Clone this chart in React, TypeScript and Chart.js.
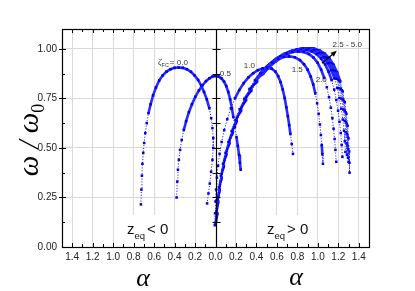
import { useEffect, useRef } from 'react';
import { Chart, registerables } from 'chart.js';
Chart.register(...registerables);

// ---- axis ticks ----
const X_TICKS = [-1.4, -1.2, -1.0, -0.8, -0.6, -0.4, -0.2, 0, 0.2, 0.4, 0.6, 0.8, 1.0, 1.2, 1.4];
const Y_TICKS = [0, 0.25, 0.5, 0.75, 1.0];

// ---- curves: [alpha (negative = z_eq < 0), omega/omega0] ----
const zeta00: [number, number][] = [
  [-0.729, 0.215], [-0.724, 0.29], [-0.719, 0.36], [-0.714, 0.42], [-0.706, 0.475], [-0.697, 0.525],
  [-0.686, 0.575], [-0.672, 0.625], [-0.655, 0.675], [-0.634, 0.72], [-0.61, 0.765], [-0.582, 0.805],
  [-0.55, 0.84], [-0.515, 0.866], [-0.478, 0.885], [-0.44, 0.897], [-0.4, 0.904], [-0.36, 0.906],
  [-0.32, 0.904], [-0.28, 0.897], [-0.24, 0.884], [-0.205, 0.866], [-0.17, 0.843], [-0.14, 0.815],
  [-0.112, 0.782], [-0.085, 0.745], [-0.06, 0.7], [-0.042, 0.65], [-0.03, 0.6], [-0.022, 0.55],
  [-0.022, 0.5], [-0.03, 0.44], [-0.043, 0.38], [-0.056, 0.32], [-0.069, 0.27], [-0.082, 0.22],
];
const zeta05: [number, number][] = [
  [-0.38, 0.25], [-0.374, 0.33], [-0.367, 0.39], [-0.358, 0.44], [-0.346, 0.49], [-0.33, 0.54],
  [-0.31, 0.59], [-0.287, 0.635], [-0.26, 0.68], [-0.23, 0.72], [-0.197, 0.758], [-0.162, 0.79],
  [-0.127, 0.816], [-0.093, 0.837], [-0.06, 0.851], [-0.03, 0.86], [0.0, 0.863], [0.03, 0.86],
  [0.058, 0.851], [0.083, 0.835], [0.105, 0.812], [0.125, 0.782], [0.143, 0.745], [0.16, 0.7],
  [0.175, 0.655], [0.19, 0.605], [0.205, 0.555], [0.218, 0.51], [0.23, 0.465], [0.239, 0.425], [0.246, 0.39],
];
const zeta10: [number, number][] = [
  [-0.007, 0.11], [-0.004, 0.17], [0.0, 0.23], [0.006, 0.29], [0.014, 0.35], [0.025, 0.41],
  [0.04, 0.47], [0.06, 0.53], [0.085, 0.59], [0.115, 0.645], [0.15, 0.7], [0.19, 0.75],
  [0.232, 0.792], [0.276, 0.827], [0.322, 0.856], [0.368, 0.877], [0.414, 0.892], [0.46, 0.901],
  [0.505, 0.905], [0.55, 0.9], [0.585, 0.885], [0.612, 0.862], [0.636, 0.832], [0.657, 0.795],
  [0.676, 0.752], [0.692, 0.705], [0.707, 0.66], [0.72, 0.615], [0.732, 0.57], [0.745, 0.52], [0.757, 0.47],
];
const zeta15: [number, number][] = [
  [0.0, 0.12], [0.008, 0.18], [0.02, 0.24], [0.035, 0.3], [0.053, 0.36], [0.074, 0.42],
  [0.098, 0.475], [0.126, 0.53], [0.158, 0.585], [0.195, 0.64], [0.236, 0.695], [0.282, 0.748],
  [0.332, 0.797], [0.385, 0.84], [0.44, 0.877], [0.497, 0.908], [0.555, 0.932], [0.612, 0.949],
  [0.667, 0.959], [0.72, 0.962], [0.775, 0.957], [0.825, 0.943], [0.865, 0.922], [0.9, 0.895],
  [0.93, 0.86], [0.955, 0.82], [0.975, 0.775], [0.993, 0.725], [1.008, 0.672], [1.02, 0.618],
  [1.03, 0.565], [1.038, 0.515], [1.044, 0.468], [1.05, 0.42],
];
const zeta20: [number, number][] = [
  [0.005, 0.13], [0.013, 0.19], [0.026, 0.25], [0.042, 0.31], [0.061, 0.37], [0.083, 0.43],
  [0.108, 0.485], [0.137, 0.54], [0.17, 0.595], [0.208, 0.65], [0.25, 0.703], [0.296, 0.755],
  [0.346, 0.803], [0.4, 0.846], [0.456, 0.884], [0.514, 0.916], [0.574, 0.942], [0.634, 0.962],
  [0.694, 0.976], [0.752, 0.984], [0.808, 0.987], [0.862, 0.984], [0.912, 0.974], [0.957, 0.956],
  [0.997, 0.93], [1.032, 0.895], [1.062, 0.853], [1.088, 0.806], [1.109, 0.756], [1.127, 0.703],
  [1.142, 0.65], [1.154, 0.597], [1.164, 0.545], [1.172, 0.49], [1.18, 0.43],
];
const zeta25: [number, number][] = [
  [0.008, 0.14], [0.016, 0.2], [0.029, 0.26], [0.045, 0.32], [0.065, 0.38], [0.088, 0.44],
  [0.114, 0.495], [0.144, 0.55], [0.178, 0.605], [0.217, 0.66], [0.26, 0.713], [0.307, 0.764],
  [0.358, 0.811], [0.413, 0.854], [0.47, 0.891], [0.53, 0.923], [0.592, 0.949], [0.655, 0.969],
  [0.717, 0.983], [0.777, 0.991], [0.834, 0.995], [0.888, 0.994], [0.94, 0.987], [0.988, 0.973],
  [1.032, 0.951], [1.071, 0.922], [1.105, 0.885], [1.135, 0.842], [1.16, 0.794], [1.181, 0.742],
  [1.198, 0.688], [1.212, 0.632], [1.224, 0.575], [1.233, 0.515], [1.24, 0.455],
];
const zeta30: [number, number][] = [
  [0.01, 0.15], [0.019, 0.21], [0.032, 0.27], [0.049, 0.33], [0.069, 0.39], [0.093, 0.45],
  [0.12, 0.505], [0.151, 0.56], [0.186, 0.615], [0.226, 0.67], [0.27, 0.722], [0.318, 0.772],
  [0.37, 0.819], [0.426, 0.861], [0.484, 0.897], [0.545, 0.928], [0.608, 0.954], [0.672, 0.974],
  [0.735, 0.988], [0.796, 0.997], [0.855, 1.001], [0.91, 1.0], [0.963, 0.993], [1.012, 0.979],
  [1.057, 0.957], [1.097, 0.928], [1.132, 0.892], [1.163, 0.85], [1.189, 0.803], [1.211, 0.752],
  [1.229, 0.698], [1.244, 0.643], [1.256, 0.587], [1.264, 0.533], [1.27, 0.48],
];
const zeta35: [number, number][] = [
  [0.012, 0.155], [0.021, 0.215], [0.035, 0.275], [0.052, 0.335], [0.073, 0.395], [0.097, 0.455],
  [0.125, 0.51], [0.157, 0.565], [0.193, 0.62], [0.233, 0.675], [0.278, 0.727], [0.327, 0.777],
  [0.38, 0.823], [0.436, 0.864], [0.495, 0.9], [0.557, 0.931], [0.621, 0.956], [0.686, 0.976],
  [0.75, 0.99], [0.813, 0.998], [0.873, 1.002], [0.93, 1.0], [0.983, 0.993], [1.032, 0.978],
  [1.077, 0.956], [1.117, 0.927], [1.152, 0.891], [1.183, 0.849], [1.209, 0.801], [1.231, 0.749],
  [1.249, 0.694], [1.263, 0.637], [1.274, 0.579], [1.28, 0.522], [1.285, 0.465],
];
const zeta40: [number, number][] = [
  [0.014, 0.16], [0.023, 0.22], [0.037, 0.28], [0.055, 0.34], [0.076, 0.4], [0.101, 0.46],
  [0.129, 0.515], [0.162, 0.57], [0.198, 0.625], [0.239, 0.68], [0.285, 0.732], [0.335, 0.782],
  [0.389, 0.827], [0.446, 0.868], [0.506, 0.903], [0.569, 0.934], [0.634, 0.958], [0.7, 0.978],
  [0.765, 0.991], [0.828, 0.999], [0.888, 1.002], [0.945, 1.0], [0.998, 0.992], [1.047, 0.977],
  [1.092, 0.955], [1.132, 0.925], [1.167, 0.888], [1.198, 0.845], [1.224, 0.797], [1.245, 0.744],
  [1.262, 0.688], [1.276, 0.63], [1.286, 0.57], [1.291, 0.51], [1.295, 0.45],
];
const zeta45: [number, number][] = [
  [0.016, 0.165], [0.025, 0.225], [0.039, 0.285], [0.057, 0.345], [0.079, 0.405], [0.104, 0.465],
  [0.133, 0.52], [0.166, 0.575], [0.203, 0.63], [0.245, 0.685], [0.292, 0.737], [0.343, 0.786],
  [0.398, 0.831], [0.456, 0.871], [0.517, 0.906], [0.581, 0.936], [0.647, 0.96], [0.713, 0.979],
  [0.779, 0.992], [0.842, 0.999], [0.901, 1.002], [0.957, 1.0], [1.01, 0.991], [1.059, 0.976],
  [1.104, 0.953], [1.144, 0.922], [1.179, 0.884], [1.209, 0.84], [1.234, 0.791], [1.255, 0.737],
  [1.271, 0.68], [1.284, 0.62], [1.292, 0.557], [1.297, 0.493], [1.3, 0.43],
];
const zeta50: [number, number][] = [
  [0.018, 0.17], [0.027, 0.23], [0.041, 0.29], [0.059, 0.35], [0.081, 0.41], [0.107, 0.47],
  [0.137, 0.525], [0.17, 0.58], [0.208, 0.635], [0.251, 0.69], [0.299, 0.742], [0.351, 0.79],
  [0.406, 0.835], [0.465, 0.874], [0.527, 0.909], [0.592, 0.938], [0.659, 0.962], [0.726, 0.98],
  [0.792, 0.993], [0.855, 1.0], [0.913, 1.002], [0.968, 1.0], [1.02, 0.991], [1.069, 0.975],
  [1.114, 0.951], [1.154, 0.919], [1.189, 0.88], [1.219, 0.835], [1.243, 0.785], [1.263, 0.73],
  [1.279, 0.672], [1.291, 0.611], [1.3, 0.548], [1.306, 0.482], [1.309, 0.425], [1.31, 0.375],
];

const SERIES = [zeta00, zeta05, zeta10, zeta15, zeta20, zeta25, zeta30, zeta35, zeta40, zeta45, zeta50];
const SERIES_NAMES = ['0.0', '0.5', '1.0', '1.5', '2.0', '2.5', '3.0', '3.5', '4.0', '4.5', '5.0'];

// curve labels (text, alpha, omega of left/middle anchor)
const LABEL_TEXTS = ['0.5', '1.0', '1.5', '2.0', '2.5 - 5.0'];
const LABEL_POS: [number, number][] = [[0.042, 0.876], [0.276, 0.914], [0.744, 0.896], [0.979, 0.843], [1.144, 1.018]];

const segLen = (c: any) => Math.hypot(c.p1.x - c.p0.x, c.p1.y - c.p0.y);

const decor = {
  id: 'decor',
  beforeDatasetsDraw(chart: any) {
    const { ctx, chartArea: a } = chart;
    ctx.save();
    ctx.fillStyle = '#ffffff';
    ctx.fillRect(120, 215, 51, a.bottom - 215);
    ctx.fillRect(262, 215, 51, a.bottom - 215);
    ctx.restore();
  },
  afterDatasetsDraw(chart: any) {
    const { ctx, chartArea: a, scales } = chart;
    const sx = (v: number) => scales.x.getPixelForValue(v);
    const sy = (v: number) => scales.y.getPixelForValue(v);
    ctx.save();
    ctx.strokeStyle = '#000';
    ctx.lineWidth = 1;
    // ticks on x axis (bottom and top, inward)
    for (let i = -14; i <= 14; i++) {
      const x = Math.round(sx(i / 10)) + 0.5;
      const len = i % 2 === 0 ? 4 : 3;
      ctx.beginPath();
      ctx.moveTo(x, a.bottom);
      ctx.lineTo(x, a.bottom - len);
      ctx.moveTo(x, a.top);
      ctx.lineTo(x, a.top + len);
      ctx.stroke();
    }
    // y ticks on left axis and center axis
    const cx = Math.round(sx(0)) + 0.5;
    for (let j = 1; j <= 8; j++) {
      const v = j * 0.125;
      const y = Math.round(sy(v)) + 0.5;
      const major = j % 2 === 0;
      ctx.beginPath();
      ctx.moveTo(a.left - (major ? 3 : 0), y);
      ctx.lineTo(a.left + (major ? 4 : 3), y);
      ctx.moveTo(cx - 4, y);
      ctx.lineTo(cx + 4, y);
      ctx.stroke();
    }
    // center axis line
    ctx.lineWidth = 1.2;
    ctx.beginPath();
    ctx.moveTo(cx, a.top);
    ctx.lineTo(cx, a.bottom);
    ctx.stroke();
    // frame
    ctx.strokeRect(Math.round(a.left) + 0.5, Math.round(a.top) + 0.5, Math.round(a.right - a.left), Math.round(a.bottom - a.top));

    // curve labels
    ctx.fillStyle = '#333';
    ctx.textBaseline = 'middle';
    ctx.textAlign = 'left';
    ctx.font = '8px "Liberation Sans", Arial, sans-serif';
    LABEL_TEXTS.forEach((t, i) => {
      ctx.fillText(t, sx(LABEL_POS[i][0]), sy(LABEL_POS[i][1]));
    });
    // zeta_FC = 0.0
    {
      let x = sx(-0.563);
      const y = sy(0.929);
      ctx.font = 'italic 9px "Liberation Serif", serif';
      ctx.fillText('ζ', x, y);
      x += ctx.measureText('ζ').width;
      ctx.font = '5.5px "Liberation Sans", Arial, sans-serif';
      ctx.fillText('FC', x, y + 2.5);
      x += ctx.measureText('FC').width + 1;
      ctx.font = '8px "Liberation Sans", Arial, sans-serif';
      ctx.fillText('= 0.0', x, y);
    }
    // arrow
    {
      const x0 = sx(1.04), y0 = sy(0.927), x1 = sx(1.185), y1 = sy(0.99);
      const ang = Math.atan2(y1 - y0, x1 - x0);
      ctx.strokeStyle = '#000';
      ctx.fillStyle = '#000';
      ctx.lineWidth = 1.2;
      ctx.beginPath();
      ctx.moveTo(x0, y0);
      ctx.lineTo(x1 - 3 * Math.cos(ang), y1 - 3 * Math.sin(ang));
      ctx.stroke();
      ctx.beginPath();
      ctx.moveTo(x1, y1);
      ctx.lineTo(x1 - 6 * Math.cos(ang) + 2.6 * Math.sin(ang), y1 - 6 * Math.sin(ang) - 2.6 * Math.cos(ang));
      ctx.lineTo(x1 - 6 * Math.cos(ang) - 2.6 * Math.sin(ang), y1 - 6 * Math.sin(ang) + 2.6 * Math.cos(ang));
      ctx.closePath();
      ctx.fill();
    }
    // z_eq labels
    const zeq = (x: number, sign: string) => {
      const base = 234;
      ctx.fillStyle = '#111';
      ctx.textBaseline = 'alphabetic';
      ctx.font = '15px "Liberation Sans", Arial, sans-serif';
      ctx.fillText('z', x, base);
      let xx = x + ctx.measureText('z').width;
      ctx.font = '9.5px "Liberation Sans", Arial, sans-serif';
      ctx.fillText('eq', xx, base + 5);
      xx += ctx.measureText('eq').width + 2;
      ctx.font = '15px "Liberation Sans", Arial, sans-serif';
      ctx.fillText(sign + ' 0', xx, base);
    };
    zeq(127, '<');
    zeq(267, '>');

    // axis titles
    ctx.fillStyle = '#000';
    ctx.textBaseline = 'middle';
    ctx.textAlign = 'center';
    ctx.font = 'italic 26px "Liberation Serif", serif';
    ctx.fillText('α', 143, 279);
    ctx.fillText('α', 296, 278);

    ctx.save();
    ctx.translate(31, 140);
    ctx.rotate(-Math.PI / 2);
    ctx.textAlign = 'left';
    ctx.textBaseline = 'alphabetic';
    const mainFont = 'italic 29px "Liberation Serif", serif';
    const subFont = '18px "Liberation Serif", serif';
    ctx.font = mainFont;
    const part1 = 'ω / ω';
    const w1 = ctx.measureText(part1).width;
    ctx.font = subFont;
    const w2 = ctx.measureText('0').width;
    const start = -(w1 + w2) / 2;
    ctx.font = mainFont;
    ctx.fillText(part1, start, 7);
    ctx.font = subFont;
    ctx.fillText('0', start + w1, 13);
    ctx.restore();

    ctx.restore();
  },
};

export default function App() {
  const ref = useRef<HTMLCanvasElement>(null);
  useEffect(() => {
    if (!ref.current) return;
    const datasets = SERIES.map((s, i) => ({
      label: SERIES_NAMES[i],
      data: s.map(([x, y]) => ({ x, y })),
      showLine: true,
      borderColor: '#2a2aff',
      backgroundColor: '#0000f0',
      pointBackgroundColor: '#0000f0',
      pointBorderWidth: 0,
      pointRadius: 1.8,
      pointStyle: 'rect',
      borderWidth: 1,
      tension: 0,
      segment: {
        borderWidth: (c: any) => (segLen(c) < 9.5 ? 2.6 : 1),
        borderDash: (c: any) => (segLen(c) < 9.5 ? [] : [1.2, 1.6]),
      },
    }));
    const chart = new Chart(ref.current, {
      type: 'scatter',
      data: { datasets },
      options: {
        animation: false,
        responsive: false,
        devicePixelRatio: 1,
        layout: { padding: { top: 29, right: 46, left: 0, bottom: 0 } },
        plugins: { legend: { display: false }, tooltip: { enabled: false } },
        scales: {
          x: {
            type: 'linear',
            min: -1.5,
            max: 1.5,
            afterBuildTicks: (s: any) => { s.ticks = X_TICKS.map((v) => ({ value: v })); },
            afterFit: (s: any) => { s.height = 44; },
            border: { display: false },
            grid: {
              drawTicks: false,
              color: (c: any) => (c.tick && Math.abs(c.tick.value) < 1e-9 ? 'rgba(0,0,0,0)' : '#d9d9d9'),
              lineWidth: 1,
            },
            ticks: {
              padding: 4,
              maxRotation: 0,
              autoSkip: false,
              color: '#222',
              font: { family: '"Liberation Sans", Arial, sans-serif', size: 10 },
              callback: (v: any) => Math.abs(Number(v)).toFixed(1),
            },
          },
          y: {
            type: 'linear',
            min: 0,
            max: 1.1,
            afterBuildTicks: (s: any) => { s.ticks = Y_TICKS.map((v) => ({ value: v })); },
            afterFit: (s: any) => { s.width = 62; },
            border: { display: false },
            grid: {
              drawTicks: false,
              color: (c: any) => (c.tick && c.tick.value === 0 ? 'rgba(0,0,0,0)' : '#d9d9d9'),
              lineWidth: 1,
            },
            ticks: {
              padding: 5,
              autoSkip: false,
              color: '#222',
              font: { family: '"Liberation Sans", Arial, sans-serif', size: 10 },
              callback: (v: any) => Number(v).toFixed(2),
            },
          },
        },
      },
      plugins: [decor],
    } as any);
    return () => chart.destroy();
  }, []);
  return (
    <div style={{ position: 'fixed', left: 0, top: 0, width: 415, height: 291, background: '#fff' }}>
      <canvas ref={ref} width={415} height={291} style={{ display: 'block', width: 415, height: 291 }} />
    </div>
  );
}
